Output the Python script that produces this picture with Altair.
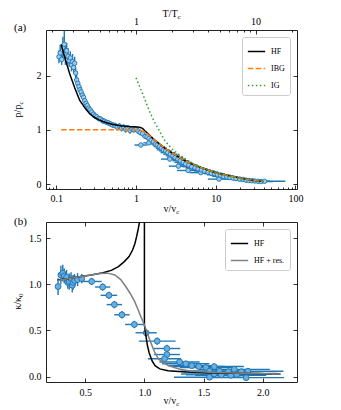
import altair as alt
import pandas as pd

FONT = "Liberation Serif"
BLUE = "#1f77b4"

# ---------------- panel (a) data ----------------
top_v = [0.108, 0.112, 0.117, 0.121, 0.126, 0.130, 0.135, 0.140, 0.145, 0.150,
         0.155, 0.160, 0.165, 0.170, 0.175, 0.180, 0.186, 0.192, 0.198, 0.205,
         0.212, 0.220, 0.228, 0.236, 0.245, 0.255, 0.265, 0.278, 0.292, 0.306,
         0.322, 0.340, 0.360, 0.380, 0.400, 0.425, 0.450, 0.480, 0.510, 0.545,
         0.580, 0.620, 0.660, 0.700, 0.740, 0.790, 0.840, 0.890, 0.940, 1.000,
         1.060, 1.130, 1.150, 1.210, 1.300, 1.380, 1.460, 1.450, 1.550, 1.650,
         1.750, 1.850, 1.960, 2.080, 2.200, 2.350, 2.500, 2.650, 2.700, 2.900,
         3.100, 3.350, 3.400, 3.600, 3.900, 4.200, 4.500, 4.600, 5.000, 5.500,
         6.000, 6.500, 6.600, 7.200, 8.000, 8.800, 9.700, 10.50, 11.00, 11.50,
         12.50, 13.80, 15.00, 16.50, 18.00, 20.00, 22.00, 24.00, 26.00, 28.50,
         31.00, 34.00, 37.00, 41.00]
top_p = [2.35, 2.42, 2.30, 2.52, 2.58, 2.40, 2.46, 2.36, 2.28, 2.33,
         2.20, 2.26, 2.15, 2.23, 2.05, 1.92, 1.86, 1.80, 1.74, 1.70,
         1.64, 1.60, 1.54, 1.49, 1.45, 1.40, 1.37, 1.33, 1.29, 1.26,
         1.24, 1.21, 1.20, 1.17, 1.16, 1.14, 1.13, 1.11, 1.09, 1.08,
         1.05, 1.07, 1.03, 1.05, 1.01, 1.04, 0.99, 1.02, 1.00, 1.01,
         0.98, 0.95, 0.72, 0.93, 0.88, 0.87, 0.84, 0.76, 0.81, 0.78,
         0.74, 0.72, 0.69, 0.66, 0.63, 0.61, 0.58, 0.46, 0.55, 0.52,
         0.49, 0.46, 0.33, 0.43, 0.40, 0.37, 0.25, 0.35, 0.32, 0.30,
         0.28, 0.21, 0.26, 0.24, 0.22, 0.20, 0.19, 0.17, 0.09, 0.16,
         0.14, 0.13, 0.12, 0.11, 0.10, 0.09, 0.085, 0.07, 0.065, 0.06,
         0.055, 0.05, 0.045, 0.05]
top_dlog = [0.015, 0.015, 0.015, 0.015, 0.015, 0.015, 0.015, 0.015, 0.015, 0.015,
            0.015, 0.015, 0.015, 0.015, 0.015, 0.015, 0.015, 0.015, 0.015, 0.015,
            0.015, 0.015, 0.015, 0.015, 0.015, 0.015, 0.015, 0.015, 0.015, 0.015,
            0.015, 0.015, 0.015, 0.015, 0.015, 0.02, 0.02, 0.02, 0.02, 0.02,
            0.02, 0.02, 0.02, 0.02, 0.02, 0.02, 0.02, 0.02, 0.025, 0.025,
            0.03, 0.03, 0.08, 0.03, 0.04, 0.04, 0.05, 0.07, 0.05, 0.06,
            0.06, 0.06, 0.07, 0.07, 0.08, 0.08, 0.09, 0.11, 0.09, 0.09,
            0.10, 0.10, 0.12, 0.10, 0.11, 0.11, 0.14, 0.11, 0.12, 0.12,
            0.12, 0.14, 0.12, 0.13, 0.13, 0.13, 0.13, 0.13, 0.14, 0.13,
            0.14, 0.14, 0.14, 0.14, 0.14, 0.14, 0.14, 0.14, 0.14, 0.14,
            0.15, 0.15, 0.15, 0.26]
top_dp = [0.12, 0.15, 0.10, 0.20, 0.25, 0.20, 0.15, 0.15, 0.12, 0.12,
          0.12, 0.14, 0.10, 0.12, 0.10, 0.10, 0.10, 0.09, 0.09, 0.09,
          0.08, 0.08, 0.08, 0.07, 0.07, 0.07, 0.06, 0.06, 0.06, 0.06,
          0.05, 0.05, 0.05, 0.05, 0.05, 0.05, 0.05, 0.05, 0.05, 0.05,
          0.06, 0.05, 0.06, 0.05, 0.06, 0.05, 0.06, 0.05, 0.05, 0.05,
          0.05, 0.05, 0.04, 0.05, 0.05, 0.05, 0.05, 0.04, 0.05, 0.05,
          0.05, 0.05, 0.05, 0.05, 0.05, 0.05, 0.05, 0.04, 0.05, 0.05,
          0.05, 0.04, 0.04, 0.04, 0.04, 0.04, 0.04, 0.04, 0.04, 0.04,
          0.04, 0.03, 0.04, 0.04, 0.04, 0.03, 0.03, 0.03, 0.03, 0.03,
          0.03, 0.03, 0.03, 0.03, 0.03, 0.02, 0.02, 0.02, 0.02, 0.02,
          0.02, 0.02, 0.02, 0.02]

hf_v = [0.115, 0.13, 0.147, 0.17, 0.196, 0.23, 0.261, 0.30, 0.348, 0.42, 0.51, 0.65,
        0.825, 1.0, 1.1, 1.2, 1.3, 1.45, 1.69, 2.0, 2.26, 2.6, 3.0, 3.5, 4.0, 5.0,
        5.9, 7.5, 10.0, 15.4, 22.6, 30.0, 40.0]
hf_p = [2.58, 2.30, 2.04, 1.78, 1.55, 1.40, 1.30, 1.23, 1.18, 1.135, 1.10, 1.075,
        1.06, 1.055, 1.05, 1.03, 0.98, 0.915, 0.82, 0.735, 0.67, 0.61, 0.55, 0.49,
        0.44, 0.37, 0.33, 0.27, 0.205, 0.147, 0.095, 0.065, 0.045]
ibg_v = [0.115, 0.5, 1.0, 1.09, 1.2, 1.3, 1.45, 1.69, 2.0, 2.26, 2.6, 3.0, 3.5, 4.0,
         5.0, 5.9, 7.5, 10.0, 15.4, 22.6, 30.0, 40.0]
ibg_p = [1.0, 1.0, 1.0, 1.0, 0.98, 0.955, 0.905, 0.82, 0.735, 0.67, 0.61, 0.55, 0.49,
         0.44, 0.37, 0.33, 0.27, 0.205, 0.147, 0.095, 0.065, 0.045]
ig_v = [1.0, 1.14, 1.27, 1.4, 1.54, 1.7, 1.87, 2.05, 2.26, 2.5, 2.74, 3.1, 3.5, 4.2,
        5.0, 6.5, 8.5, 11.0, 15.0, 22.0, 30.0, 40.0]
ig_p = [1.96, 1.76, 1.59, 1.43, 1.28, 1.15, 1.04, 0.93, 0.82, 0.74, 0.67, 0.60, 0.54,
        0.46, 0.39, 0.31, 0.245, 0.19, 0.145, 0.095, 0.068, 0.048]

top_x_major = [0.1, 1, 10, 100]
top_x_minor = [0.08, 0.09, 0.2, 0.3, 0.4, 0.5, 0.6, 0.7, 0.8, 0.9, 2, 3, 4, 5, 6, 7, 8, 9,
               20, 30, 40, 50, 60, 70, 80, 90]
top_t_major = [1, 10]
top_t_minor = [0.2, 0.3, 0.4, 0.5, 0.6, 0.7, 0.8, 0.9, 2, 3, 4, 5, 6, 7, 8, 9, 20]
top_y_ticks = [0, 1, 2]

# ---------------- panel (b) data ----------------
bot_v = [0.270, 0.294, 0.310, 0.322, 0.342, 0.352, 0.364, 0.380, 0.390, 0.398,
         0.410, 0.435, 0.470, 0.554, 0.647, 0.700, 0.746, 0.810, 0.915, 1.015,
         1.108, 1.190, 1.190, 1.170, 1.297, 1.350, 1.400, 1.460, 1.520, 1.550,
         1.590, 1.550, 1.590, 1.635, 1.650, 1.710, 1.760, 1.780, 1.820, 1.860,
         1.875, 1.730]
bot_k = [0.975, 1.10, 1.12, 1.09, 1.075, 1.02, 1.03, 1.06, 0.99, 1.02,
         1.04, 1.05, 1.06, 1.03, 0.97, 0.88, 0.78, 0.67, 0.565, 0.475,
         0.385, 0.305, 0.24, 0.195, 0.16, 0.14, 0.12, 0.11, 0.10, 0.06,
         0.11, -0.005, 0.03, 0.06, 0.02, 0.055, 0.08, 0.025, 0.055, -0.01,
         0.06, 0.015]
bot_dv = [0.012, 0.012, 0.012, 0.012, 0.012, 0.012, 0.012, 0.012, 0.012, 0.012,
          0.012, 0.015, 0.02, 0.085, 0.064, 0.07, 0.065, 0.065, 0.078, 0.09,
          0.155, 0.113, 0.11, 0.14, 0.17, 0.2, 0.2, 0.22, 0.22, 0.25,
          0.25, 0.3, 0.28, 0.25, 0.3, 0.28, 0.3, 0.3, 0.3, 0.32,
          0.3, 0.3]
bot_dk = [0.09, 0.10, 0.09, 0.08, 0.08, 0.07, 0.09, 0.07, 0.08, 0.08,
          0.07, 0.07, 0.05, 0.04, 0.04, 0.04, 0.04, 0.04, 0.04, 0.04,
          0.04, 0.04, 0.04, 0.03, 0.03, 0.03, 0.03, 0.03, 0.03, 0.03,
          0.03, 0.03, 0.03, 0.03, 0.03, 0.03, 0.03, 0.03, 0.03, 0.03,
          0.03, 0.03]

hfl_v = [0.265, 0.35, 0.45, 0.55, 0.65, 0.72, 0.78, 0.83, 0.87, 0.9, 0.92, 0.935,
         0.948, 0.958, 0.97]
hfl_k = [1.045, 1.06, 1.08, 1.10, 1.125, 1.15, 1.19, 1.245, 1.30, 1.37, 1.44, 1.52,
         1.60, 1.67, 1.85]
hfr_v = [1.0, 1.0, 1.012, 1.025, 1.04, 1.065, 1.09, 1.13, 1.2, 1.35, 1.6, 1.9, 2.15]
hfr_k = [1.9, 0.56, 0.45, 0.34, 0.26, 0.17, 0.12, 0.085, 0.065, 0.05, 0.04, 0.035, 0.03]
res_v = [0.265, 0.35, 0.45, 0.55, 0.62, 0.69, 0.75, 0.80, 0.845, 0.88, 0.915, 0.945,
         0.97, 1.0, 1.03, 1.06, 1.085, 1.12, 1.2, 1.3, 1.4, 1.6, 1.9, 2.15]
res_k = [1.04, 1.06, 1.08, 1.10, 1.115, 1.12, 1.10, 1.05, 0.97, 0.90, 0.82, 0.73,
         0.65, 0.56, 0.45, 0.35, 0.27, 0.19, 0.12, 0.08, 0.06, 0.045, 0.035, 0.03]

bot_x_ticks = [0.5, 1.0, 1.5, 2.0]
bot_y_ticks = [0.0, 0.5, 1.0, 1.5]

# ---------------- frames ----------------
top_df = pd.DataFrame({"v": top_v, "p": top_p, "dl": top_dlog, "dp": top_dp})
top_df["vlo"] = top_df["v"] * 10 ** (-top_df["dl"])
top_df["vhi"] = top_df["v"] * 10 ** (top_df["dl"])
top_df["plo"] = top_df["p"] - top_df["dp"]
top_df["phi"] = top_df["p"] + top_df["dp"]

rows = []
for name, vs, ps in [("HF", hf_v, hf_p), ("IBG", ibg_v, ibg_p), ("IG", ig_v, ig_p)]:
    for i, (a, b) in enumerate(zip(vs, ps)):
        rows.append({"v": a, "p": b, "s": name, "i": i})
top_lines = pd.DataFrame(rows)

bot_df = pd.DataFrame({"v": bot_v, "k": bot_k, "dv": bot_dv, "dk": bot_dk})
bot_df["vlo"] = bot_df["v"] - bot_df["dv"]
bot_df["vhi"] = bot_df["v"] + bot_df["dv"]
bot_df["klo"] = bot_df["k"] - bot_df["dk"]
bot_df["khi"] = bot_df["k"] + bot_df["dk"]

rows = []
for name, br, vs, ks in [("HF", "l", hfl_v, hfl_k), ("HF", "r", hfr_v, hfr_k),
                         ("HF + res.", "g", res_v, res_k)]:
    for i, (a, b) in enumerate(zip(vs, ks)):
        rows.append({"v": a, "k": b, "sb": name, "br": br, "i": i})
bot_lines = pd.DataFrame(rows)

W = 251
H1 = 159
H2 = 160


# ---------------- helpers ----------------
def ax(orient, values, size, labels=True, fmt=None, pad=4):
    kw = dict(orient=orient, values=values, tickSize=size, offset=-size, domain=False,
              grid=False, labels=labels, title=None, tickColor="black", tickWidth=0.8,
              labelFont=FONT, labelFontSize=10, labelColor="black", labelPadding=pad,
              labelFlush=False, labelOverlap=False)
    if fmt:
        kw["format"] = fmt
    return alt.Axis(**kw)


def txt(s, x, y, H, size=10, align="center", angle=0, dy=0):
    d = pd.DataFrame({"px": [x], "py": [y]})
    return alt.Chart(d).mark_text(text=s, font=FONT, fontSize=size, align=align,
                                  baseline="middle", angle=angle, dy=dy,
                                  color="black").encode(
        x=alt.X("px:Q", scale=alt.Scale(domain=[0, W], range=[0, W], nice=False, zero=False), axis=None),
        y=alt.Y("py:Q", scale=alt.Scale(domain=[0, H], range=[0, H], nice=False, zero=False), axis=None))


def legend():
    return alt.Legend(orient="top-right", title=None, offset=7, padding=5,
                      fillColor="white", strokeColor="#cccccc", cornerRadius=2,
                      labelFont=FONT, labelFontSize=8, labelColor="black",
                      symbolType="stroke", symbolSize=300, symbolStrokeWidth=1.5,
                      rowPadding=3, labelOffset=5)


xd = [0.0743, 104.7]
xs = alt.Scale(type="log", domain=xd, nice=False)
ts = alt.Scale(type="log", domain=[xd[0] ** (2 / 3), xd[1] ** (2 / 3)], nice=False)
ys = alt.Scale(domain=[-0.092, 2.844], nice=False, zero=False)

a_h = alt.Chart(top_df).mark_rule(color=BLUE, strokeWidth=1.4).encode(
    x=alt.X("vlo:Q", scale=xs, axis=ax("bottom", top_x_major, 4, fmt="~g")),
    x2="vhi:Q",
    y=alt.Y("p:Q", scale=ys, axis=ax("left", top_y_ticks, 4, fmt="d", pad=5)))
a_v = alt.Chart(top_df).mark_rule(color=BLUE, strokeWidth=1.4).encode(
    x=alt.X("v:Q", scale=xs, axis=ax("bottom", top_x_minor, 2, labels=False)),
    y=alt.Y("plo:Q", scale=ys, axis=ax("right", top_y_ticks, 4, labels=False)),
    y2="phi:Q")
a_pts = alt.Chart(top_df).mark_point(shape="circle", filled=True, fill="#9cc9ec",
                                     stroke=BLUE, strokeWidth=0.9, opacity=1,
                                     size=20).encode(
    x=alt.X("v:Q", scale=xs, axis=None), y=alt.Y("p:Q", scale=ys, axis=None))
a_lines = alt.Chart(top_lines).mark_line(strokeWidth=1.5).encode(
    x=alt.X("v:Q", scale=xs, axis=None),
    y=alt.Y("p:Q", scale=ys, axis=None),
    color=alt.Color("s:N", scale=alt.Scale(domain=["HF", "IBG", "IG"],
                                           range=["black", "#ff7f0e", "#2ca02c"]),
                    legend=legend()),
    strokeDash=alt.StrokeDash("s:N", scale=alt.Scale(domain=["HF", "IBG", "IG"],
                                                     range=[[1, 0], [5.5, 2.4], [1.5, 2.5]]),
                              legend=legend()),
    order="i:Q")
tdf = pd.DataFrame({"T": [1.0], "z": [0.5]})
zs = alt.Scale(domain=[0, 1], nice=False, zero=False)
a_t1 = alt.Chart(tdf).mark_point(opacity=0).encode(
    x=alt.X("T:Q", scale=ts, axis=ax("top", top_t_major, 4, fmt="~g")),
    y=alt.Y("z:Q", scale=zs, axis=None))
a_t2 = alt.Chart(tdf).mark_point(opacity=0).encode(
    x=alt.X("T:Q", scale=ts, axis=ax("top", top_t_minor, 2, labels=False)),
    y=alt.Y("z:Q", scale=zs, axis=None))

top = alt.layer(
    a_h, a_v, a_pts, a_lines, a_t1, a_t2,
    txt("(a)", -32, -2.5, H1, size=11, align="left"),
    txt("v/v", 130.3, 179, H1, align="right"),
    txt("c", 130.3, 179, H1, size=7, align="left", dy=3),
    txt("T/T", 131.5, -16, H1, align="right"),
    txt("c", 131.5, -16, H1, size=7, align="left", dy=3),
    txt("p/p", -28, 74.6, H1, align="right", angle=270),
    txt("c", -28, 74.6, H1, size=7, align="left", angle=270, dy=3),
).resolve_scale(x="independent", y="independent").properties(width=W, height=H1)

# ---------------- panel (b) ----------------
xb = alt.Scale(domain=[0.168, 2.29], nice=False, zero=False)
yb = alt.Scale(domain=[-0.057, 1.673], nice=False, zero=False)

b_h = alt.Chart(bot_df).mark_rule(color=BLUE, strokeWidth=1.4).encode(
    x=alt.X("vlo:Q", scale=xb, axis=ax("bottom", bot_x_ticks, 4, fmt=".1f", pad=5)),
    x2="vhi:Q",
    y=alt.Y("k:Q", scale=yb, axis=ax("left", bot_y_ticks, 4, fmt=".1f", pad=5)))
b_v = alt.Chart(bot_df).mark_rule(color=BLUE, strokeWidth=1.4).encode(
    x=alt.X("v:Q", scale=xb, axis=ax("top", bot_x_ticks, 4, labels=False)),
    y=alt.Y("klo:Q", scale=yb, axis=ax("right", bot_y_ticks, 4, labels=False)),
    y2="khi:Q")
b_pts = alt.Chart(bot_df).mark_point(shape="circle", filled=True, fill="#6aaee0",
                                     stroke=BLUE, strokeWidth=1, opacity=1,
                                     size=34).encode(
    x=alt.X("v:Q", scale=xb, axis=None), y=alt.Y("k:Q", scale=yb, axis=None))
b_lines = alt.Chart(bot_lines).mark_line(strokeWidth=1.5, clip=True).encode(
    x=alt.X("v:Q", scale=xb, axis=None),
    y=alt.Y("k:Q", scale=yb, axis=None),
    color=alt.Color("sb:N", scale=alt.Scale(domain=["HF", "HF + res."],
                                            range=["black", "#808080"]),
                    legend=legend()),
    detail="br:N",
    order="i:Q")

bottom = alt.layer(
    b_h, b_v, b_pts, b_lines,
    txt("(b)", -32, 0.3, H2, size=11, align="left"),
    txt("v/v", 130.3, 179.3, H2, align="right"),
    txt("c", 130.3, 179.3, H2, size=7, align="left", dy=3),
    txt("κ/κ", -28, 75, H2, align="right", angle=270),
    txt("0", -28, 75, H2, size=7, align="left", angle=270, dy=3),
).resolve_scale(x="independent", y="independent").properties(width=W, height=H2)

chart = alt.vconcat(top, bottom, spacing=33, bounds="flush").resolve_scale(
    color="independent", strokeDash="independent"
).resolve_legend(color="independent", strokeDash="independent").properties(
    padding={"left": 4, "top": 0, "right": 5, "bottom": 0}
).configure_view(stroke="#222222", strokeWidth=1)

chart.save("out.html", embed_options={"renderer": "svg", "actions": False})
